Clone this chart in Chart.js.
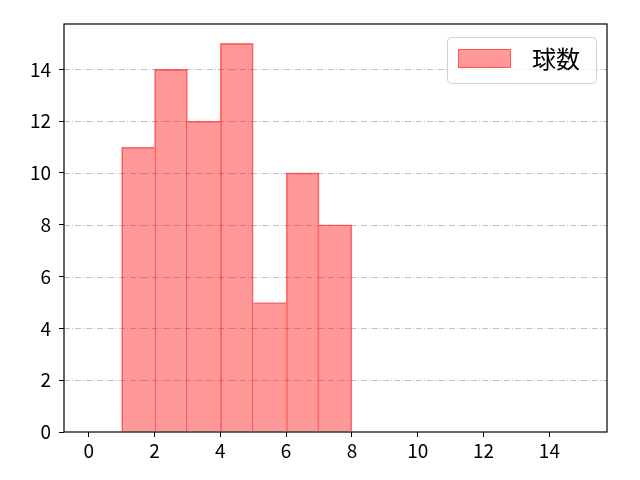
<!DOCTYPE html>
<html>
<head>
<meta charset="utf-8">
<script src="https://cdn.jsdelivr.net/npm/chart.js@4"></script>
<style>
html,body{margin:0;padding:0;background:#fff;}
#wrap{width:640px;height:480px;}
</style>
</head>
<body>
<div id="wrap"><canvas id="c" width="640" height="480"></canvas></div>
<script>
const binCenters = [1.5, 2.5, 3.5, 4.5, 5.5, 6.5, 7.5];
const counts = [11, 14, 12, 15, 5, 10, 8];
const seriesLabel = '球数';
const xTicks = [0, 2, 4, 6, 8, 10, 12, 14];
const yTicks = [0, 2, 4, 6, 8, 10, 12, 14];

const tickFont = {family: '"Noto Sans CJK JP"', size: 19};

const framePlugin = {
  id: 'frame',
  beforeDatasetsDraw(chart) {
    const {ctx, chartArea: a, scales} = chart;
    ctx.save();
    ctx.strokeStyle = '#b0b0b0';
    ctx.lineWidth = 0.8;
    ctx.setLineDash([6, 2, 1, 2]);
    yTicks.forEach(v => {
      if (v === 0) return;
      const y = Math.round(scales.y.getPixelForValue(v)) + 0.5;
      ctx.beginPath();
      ctx.moveTo(a.left, y);
      ctx.lineTo(a.right, y);
      ctx.stroke();
    });
    ctx.restore();
  },
  afterDraw(chart) {
    const {ctx, chartArea: a} = chart;
    ctx.save();
    ctx.strokeStyle = '#000';
    ctx.lineWidth = 1.2;
    ctx.strokeRect(a.left, a.top, a.right - a.left, a.bottom - a.top);
    // legend
    const bx = 447, by = 37, bw = 149, bh = 46;
    ctx.lineWidth = 1;
    ctx.strokeStyle = '#d0d0d0';
    ctx.fillStyle = 'rgba(255,255,255,0.8)';
    ctx.beginPath();
    ctx.roundRect(bx + 0.5, by + 0.5, bw, bh, 4);
    ctx.fill();
    ctx.stroke();
    ctx.fillStyle = 'rgba(255,0,0,0.4)';
    ctx.strokeStyle = 'rgba(255,0,0,0.45)';
    ctx.fillRect(458, 49, 53, 19);
    ctx.strokeRect(458.5, 49.5, 52, 18);
    ctx.fillStyle = '#000';
    ctx.font = '24px "Noto Sans CJK JP"';
    ctx.textBaseline = 'middle';
    ctx.fillText(chart.data.datasets[0].label, 532, 59);
    ctx.restore();
  }
};

function edgeWidths(i) {
  const cur = counts[i];
  const prev = i > 0 ? counts[i - 1] : null;
  const next = i < counts.length - 1 ? counts[i + 1] : null;
  return {
    top: 1,
    bottom: 0,
    left: (prev === null || prev <= cur) ? 1 : 0,
    right: (next === null || next < cur) ? 1 : 0
  };
}

new Chart(document.getElementById('c'), {
  type: 'bar',
  data: {
    datasets: [{
      label: seriesLabel,
      data: binCenters.map((x, i) => ({x: x, y: counts[i]})),
      backgroundColor: 'rgba(255,0,0,0.4)',
      borderColor: 'rgba(255,30,30,0.6)',
      borderWidth: (c) => edgeWidths(c.dataIndex),
      borderSkipped: false,
      barPercentage: 1,
      categoryPercentage: 1,
      grouped: false
    }]
  },
  options: {
    responsive: false,
    animation: false,
    devicePixelRatio: 1,
    layout: {padding: {left: 0, top: 24, right: 33, bottom: 0}},
    plugins: {legend: {display: false}, tooltip: {enabled: false}},
    scales: {
      x: {
        type: 'linear',
        offset: false,
        min: -0.75, max: 15.75,
        afterBuildTicks(s) { s.ticks = xTicks.map(v => ({value: v})); },
        afterFit(s) { s.height = 48; },
        grid: {offset: false, drawOnChartArea: false, drawTicks: true, tickLength: 5, color: '#000', lineWidth: 1},
        border: {display: false},
        ticks: {font: tickFont, color: '#000', padding: 2, maxRotation: 0}
      },
      y: {
        min: 0, max: 15.75,
        afterBuildTicks(s) { s.ticks = yTicks.map(v => ({value: v})); },
        afterFit(s) { s.width = 64; },
        grid: {drawOnChartArea: false, drawTicks: true, tickLength: 5, color: '#000', lineWidth: 1},
        border: {display: false},
        ticks: {font: tickFont, color: '#000', padding: 8}
      }
    }
  },
  plugins: [framePlugin]
});
</script>
</body>
</html>
